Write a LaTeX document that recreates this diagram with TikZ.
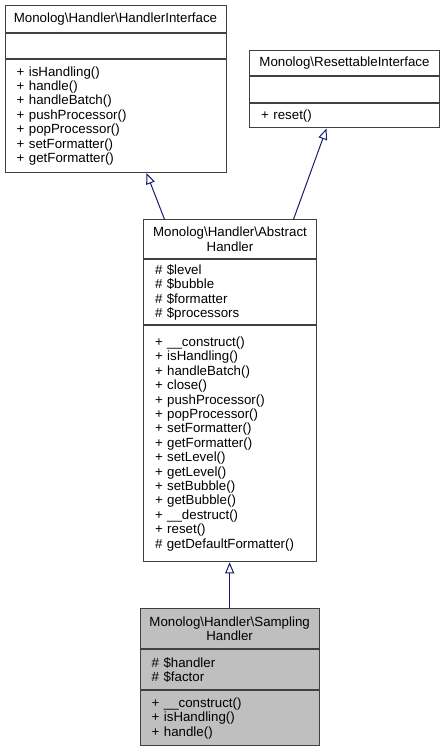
\documentclass[tikz,border=0pt]{standalone}
\usepackage{fontspec}
\setmainfont{Liberation Sans}
\usepackage{tikz}
\usetikzlibrary{arrows.meta, positioning}
\usepackage{xcolor}
\definecolor{boxgray}{HTML}{404040}
\definecolor{edgeblue}{HTML}{191970}
\definecolor{hlgray}{HTML}{BFBFBF}

\begin{document}
\begin{tikzpicture}[
x=1pt, y=-1pt,
font=\fontsize{13.3}{14.4}\selectfont,
part/.style={draw=boxgray,
line width=1pt,
rectangle,
inner ysep=0pt,
fill=white},
hd/.style 2 args={part, align=center, inner xsep=2pt, text width=#1-4, minimum height=#2},
sec/.style 2 args={part, align=left, inner xsep=11.7pt, text width=#1-23.4, minimum height=#2},
cur/.style={fill=hlgray},
inherit/.style={draw=edgeblue, line width=1pt, -{Triangle[open, length=11pt, width=9pt]}}
]
\useasboundingbox (0,0) rectangle (445,749);

\node[hd={221}{26.7}, anchor=north] (ifHead) at (115.5,5) {Monolog\textbackslash Handler\textbackslash HandlerInterface};
\node[sec={221}{25}, below=0pt of ifHead] (ifAttr) {};
\node[sec={221}{113.3}, below=0pt of ifAttr] (ifOps) {+ isHandling()\\+ handle()\\+ handleBatch()\\+ pushProcessor()\\+ popProcessor()\\+ setFormatter()\\+ getFormatter()};

\node[hd={190}{25.5}, anchor=north] (rsHead) at (344.5,50) {Monolog\textbackslash ResettableInterface};
\node[sec={190}{25.5}, below=0pt of rsHead] (rsAttr) {};
\node[sec={190}{24.5}, below=0pt of rsAttr] (rsOps) {+ reset()};

\node[hd={173.4}{39}, anchor=north] (abHead) at (230,219.3) {Monolog\textbackslash Handler\textbackslash Abstract\\Handler};
\node[sec={173.4}{65}, below=0pt of abHead] (abAttr) {\# \$level\\\# \$bubble\\\# \$formatter\\\# \$processors};
\node[sec={173.4}{236}, below=0pt of abAttr] (abOps) {+ \_\_construct()\\+ isHandling()\\+ handleBatch()\\+ close()\\+ pushProcessor()\\+ popProcessor()\\+ setFormatter()\\+ getFormatter()\\+ setLevel()\\+ getLevel()\\+ setBubble()\\+ getBubble()\\+ \_\_destruct()\\+ reset()\\\# getDefaultFormatter()};

\node[hd={179.3}{40}, cur, anchor=north] (smHead) at (229.65,608.3) {Monolog\textbackslash Handler\textbackslash Sampling\\Handler};
\node[sec={179.3}{40}, cur, below=0pt of smHead] (smAttr) {\# \$handler\\\# \$factor};
\node[sec={179.3}{55}, cur, below=0pt of smAttr] (smOps) {+ \_\_construct()\\+ isHandling()\\+ handle()};

\draw[inherit] ([xshift=21.7pt]abHead.north west) -- ([xshift=142pt]ifOps.south west);
\draw[inherit] ([xshift=150.7pt]abHead.north west) -- ([xshift=77.5pt]rsOps.south west);
\draw[inherit] (smHead.north) -- (smHead.north |- abOps.south);

\end{tikzpicture}
\end{document}
